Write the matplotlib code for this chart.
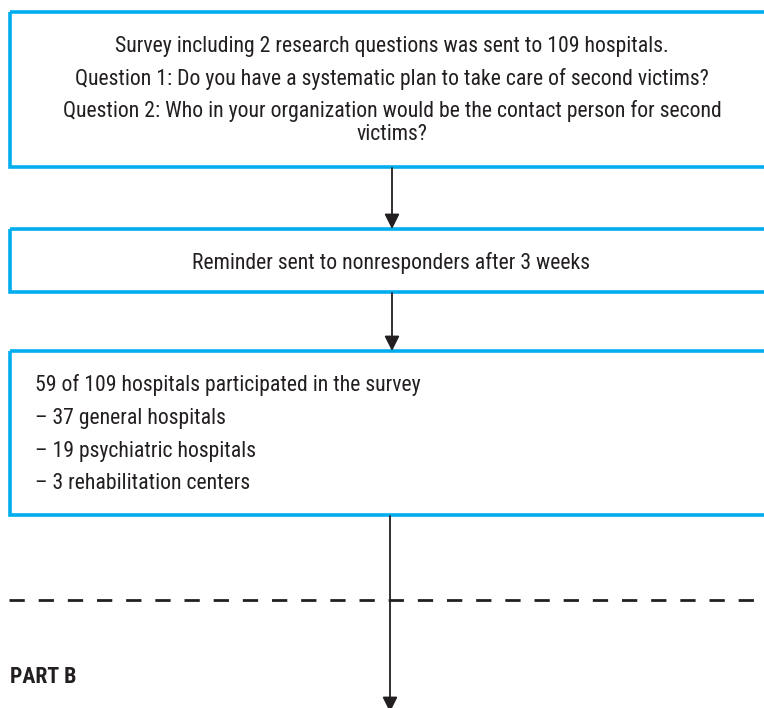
import matplotlib
matplotlib.use("Agg")
import matplotlib.pyplot as plt
from matplotlib.patches import Rectangle, FancyArrowPatch

# ---- content ----
box1_lines = [
    "Survey including 2 research questions was sent to 109 hospitals.",
    "Question 1: Do you have a systematic plan to take care of second victims?",
    "Question 2: Who in your organization would be the contact person for second",
    "victims?",
]
box2_text = "Reminder sent to nonresponders after 3 weeks"
box3_lines = [
    "59 of 109 hospitals participated in the survey",
    "\u2013 37 general hospitals",
    "\u2013 19 psychiatric hospitals",
    "\u2013 3 rehabilitation centers",
]
part_label = "PART B"

family = ["Roboto Condensed", "DejaVu Sans"]

W, H = 764, 708
fig = plt.figure(figsize=(W / 100, H / 100), dpi=100)
ax = fig.add_axes([0, 0, 1, 1])
ax.set_xlim(0, W)
ax.set_ylim(H, 0)
ax.axis("off")

BLUE = "#00AEEF"
TXT = "#231F20"
FS = 15.7

def box(x0, y0, y1):
    ax.add_patch(Rectangle((x0, y0), W + 20 - x0, y1 - y0, fill=False,
                           edgecolor=BLUE, linewidth=2.6, clip_on=True))

def arrow(x, y0, y1):
    ax.add_patch(FancyArrowPatch((x, y0), (x, y1), arrowstyle="-|>,head_length=0.9,head_width=0.45",
                                 mutation_scale=10, color=TXT, linewidth=1.3,
                                 shrinkA=0, shrinkB=0))

# boxes
box(10, 12, 167)
box(10, 229, 292)
box(10, 351, 515)

# box1 text (baselines)
ys1 = [52, 85, 117, 140]
for t, y in zip(box1_lines, ys1):
    ax.text(392, y, t, ha="center", va="baseline", fontsize=FS, color=TXT, family=family)

ax.text(391, 269, box2_text, ha="center", va="baseline", fontsize=FS, color=TXT, family=family)

ys3 = [391, 424, 457, 489]
for t, y in zip(box3_lines, ys3):
    ax.text(35, y, t, ha="left", va="baseline", fontsize=FS, color=TXT, family=family)

# arrows
arrow(392, 168, 229)
arrow(392, 293, 351)
arrow(390, 516, 712)

# dashed separator
ax.plot([9, W + 10], [600, 600], color=TXT, linewidth=2.0, linestyle=(0, (5.5, 5)),
        solid_capstyle="butt", dash_capstyle="butt")

ax.text(10, 683, part_label, ha="left", va="baseline", fontsize=FS, color=TXT,
        family=family, fontweight="bold")

fig.savefig("out.png", dpi=100)
